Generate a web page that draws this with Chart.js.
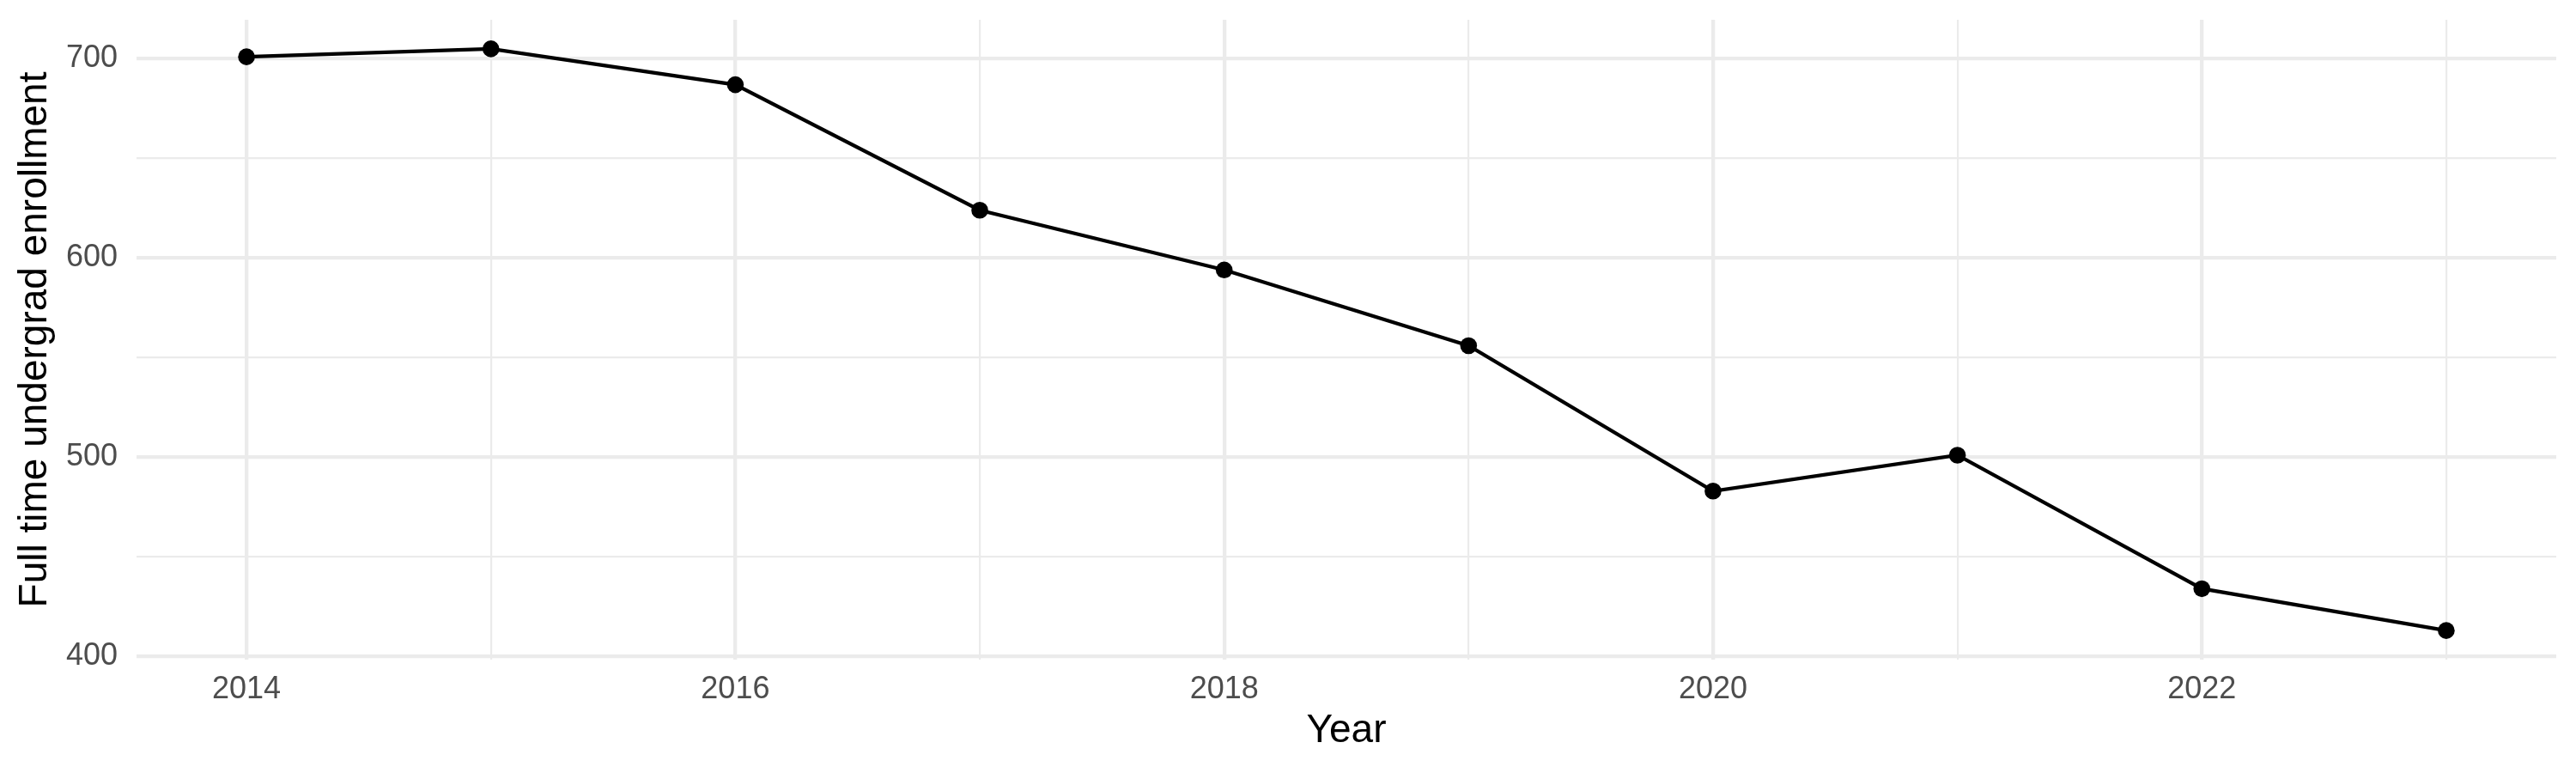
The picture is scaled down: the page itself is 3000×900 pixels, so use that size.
<!DOCTYPE html>
<html>
<head>
<meta charset="utf-8">
<script src="https://cdn.jsdelivr.net/npm/chart.js@4.4.1/dist/chart.umd.min.js"></script>
<style>
  html, body { margin: 0; padding: 0; background: #ffffff; }
  canvas { display: block; }
</style>
</head>
<body>
<canvas id="myChart" width="3000" height="900"></canvas>
<script>
// data
const years = [2014, 2015, 2016, 2017, 2018, 2019, 2020, 2021, 2022, 2023];
const enrollment = [701, 705, 687, 624, 594, 556, 483, 501, 434, 413];
const xTickLabels = [2014, 2016, 2018, 2020, 2022];
const yTickLabels = [400, 500, 600, 700];

const GRID = "#EBEBEB";
const TICK_COLOR = "#4D4D4D";
const FONT = "'Liberation Sans', Arial, sans-serif";

// ggplot style 5% expansion of the data range
function expand(values) {
    const lo = Math.min(...values);
    const hi = Math.max(...values);
    const pad = (hi - lo) * 0.05;
    return { min: lo - pad, max: hi + pad };
}
const xRange = expand(years);
const yRange = expand(enrollment);

const points = years.map((yr, i) => ({ x: yr, y: enrollment[i] }));

const data = {
    datasets: [
        {
            label: "Full time undergrad enrollment",
            data: points,
            borderColor: "#000000",
            backgroundColor: "#000000",
            borderWidth: 4.2,
            tension: 0,
            pointRadius: 9.8,
            pointBorderWidth: 0,
            pointBackgroundColor: "#000000",
        },
    ],
};

// config
const config = {
    type: "line",
    data,
    options: {
        responsive: false,
        devicePixelRatio: 1,
        animation: false,
        layout: {
            padding: { left: 0, top: 23, right: 23, bottom: 0 },
        },
        plugins: {
            legend: { display: false },
            tooltip: { enabled: false },
        },
        scales: {
            x: {
                type: "linear",
                min: xRange.min,
                max: xRange.max,
                afterFit(scale) {
                    scale.height = 132;
                    scale.paddingLeft = 0;
                    scale.paddingRight = 0;
                },
                border: { display: false },
                grid: {
                    drawTicks: false,
                    color: GRID,
                    lineWidth: (ctx) => (xTickLabels.includes(ctx.tick.value) ? 4.3 : 2.2),
                },
                ticks: {
                    stepSize: 1,
                    autoSkip: false,
                    includeBounds: false,
                    maxRotation: 0,
                    padding: 13,
                    color: TICK_COLOR,
                    font: { family: FONT, size: 36 },
                    callback: (v) => (xTickLabels.includes(v) ? String(v) : ""),
                },
                title: {
                    display: true,
                    text: "Year",
                    color: "#000000",
                    font: { family: FONT, size: 46 },
                    padding: { top: 0, bottom: 21 },
                },
            },
            y: {
                type: "linear",
                min: yRange.min,
                max: yRange.max,
                afterFit(scale) {
                    // keep the panel edges where ggplot puts them
                    scale.width = 159;
                    scale.paddingTop = 0;
                    scale.paddingBottom = 0;
                },
                border: { display: false },
                grid: {
                    drawTicks: false,
                    color: GRID,
                    lineWidth: (ctx) => (yTickLabels.includes(ctx.tick.value) ? 4.3 : 2.2),
                },
                ticks: {
                    stepSize: 50,
                    autoSkip: false,
                    includeBounds: false,
                    padding: 22,
                    color: TICK_COLOR,
                    font: { family: FONT, size: 36 },
                    callback: (v) => (yTickLabels.includes(v) ? String(v) : ""),
                },
                title: {
                    display: true,
                    text: "Full time undergrad enrollment",
                    color: "#000000",
                    font: { family: FONT, size: 46 },
                    padding: { top: 14, bottom: 0 },
                },
            },
        },
    },
};

// render init block
const myChart = new Chart(document.getElementById("myChart"), config);
</script>
</body>
</html>
